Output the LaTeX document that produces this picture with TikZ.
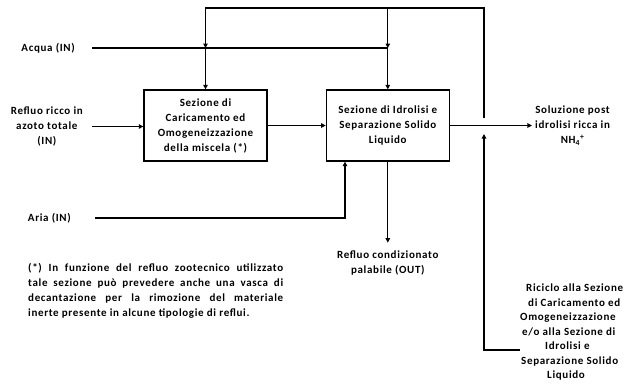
\documentclass[tikz,border=0pt]{standalone}
\usepackage{fontspec}
\setmainfont{Carlito}[LetterSpace=6]
\usetikzlibrary{arrows.meta,positioning}
\newcommand{\fs}{\fontsize{11}{15}\selectfont\bfseries}
\tikzset{
  blk/.style={rectangle, draw=black, line width=1.3pt, minimum width=123pt,
    minimum height=71pt, align=center, inner sep=2pt, font=\fs},
  lbl/.style={align=center, inner sep=0pt, font=\fs},
  note/.style={inner sep=0pt, font=\fs},
  arr/.style={-{Triangle[length=4.5pt,width=4.5pt]}, line width=1.3pt},
}
\begin{document}
\begin{tikzpicture}[x=1pt,y=-1pt]
  \useasboundingbox (0,0) rectangle (627,386);
  % sections
  \node[blk] (carico) at (205.5,125.5) {Sezione di\\Caricamento ed\\Omogeneizzazione\\della miscela (*)};
  \node[blk, right=58pt of carico] (idro) {Sezione di Idrolisi e\\Separazione Solido\\Liquido};

  % free ends and corners
  \coordinate (acq0) at (92,48);
  \coordinate (ref0) at (92,126.5);
  \coordinate (aria0) at (95,218);
  \coordinate (ariaUp) at (345,218);
  \coordinate (loopL) at (205.5,8);
  \coordinate (loopR) at (484,8);
  \coordinate (jumpT) at (484,118);
  \coordinate (jumpB) at (484,134);
  \coordinate (ricB) at (484,350);
  \coordinate (ric0) at (520,350);

  % inputs / outputs
  \node[lbl, left=17pt of acq0] (acqua) {Acqua (IN)};
  \node[lbl, left=9pt of ref0] (refluo) {Refluo ricco in\\azoto totale\\(IN)};
  \node[lbl, left=24pt of aria0] (aria) {Aria (IN)};
  \node[lbl, right=85pt of idro] (sol) {Soluzione post\\idrolisi ricca in\\NH\textsubscript{4}\textsuperscript{+}};
  \node[lbl, below=89pt of idro] (out) {Refluo condizionato\\palabile (OUT)};
  \node[note, anchor=north west, text width=255pt, align=justify] (foot) at (28,263)
    {(*) In funzione del refluo zootecnico utilizzato\linebreak
     tale sezione può prevedere anche una vasca di\linebreak
     decantazione per la rimozione del materiale\linebreak
     inerte presente in alcune tipologie di reflui.};
  \node[note, anchor=north west, align=left,
    font=\fontsize{11}{14.5}\selectfont\bfseries] (ric) at (520,284)
    {\hspace*{6pt}Riciclo alla Sezione\\\hspace*{8pt}di Caricamento ed\\Omogeneizzazione\\
     \hspace*{2pt}e/o alla Sezione di\\\hspace*{25pt}Idrolisi e\\\hspace*{1pt}Separazione Solido\\
     \hspace*{27pt}Liquido};

  \draw[arr] (acq0) -- (idro.north |- acq0) -- (idro.north);
  \draw[arr] (carico.north |- acq0) -- (carico.north);
  \draw[arr] (jumpT) -- (loopR) -- (loopL) -- (carico.north |- acq0);
  \draw[arr] (idro.north |- loopL) -- (idro.north |- acq0);
  \draw[arr] (ref0) -- (carico.west |- ref0);
  \draw[arr] (carico) -- (idro);
  \draw[arr, shorten >=3pt] (idro) -- (sol);
  \draw[arr] (aria0) -- (ariaUp) -- (ariaUp |- idro.south);
  \draw[arr, shorten >=8pt] (idro) -- (out);
  \draw[arr] (ric0) -- (ricB) -- (jumpB);
\end{tikzpicture}
\end{document}
